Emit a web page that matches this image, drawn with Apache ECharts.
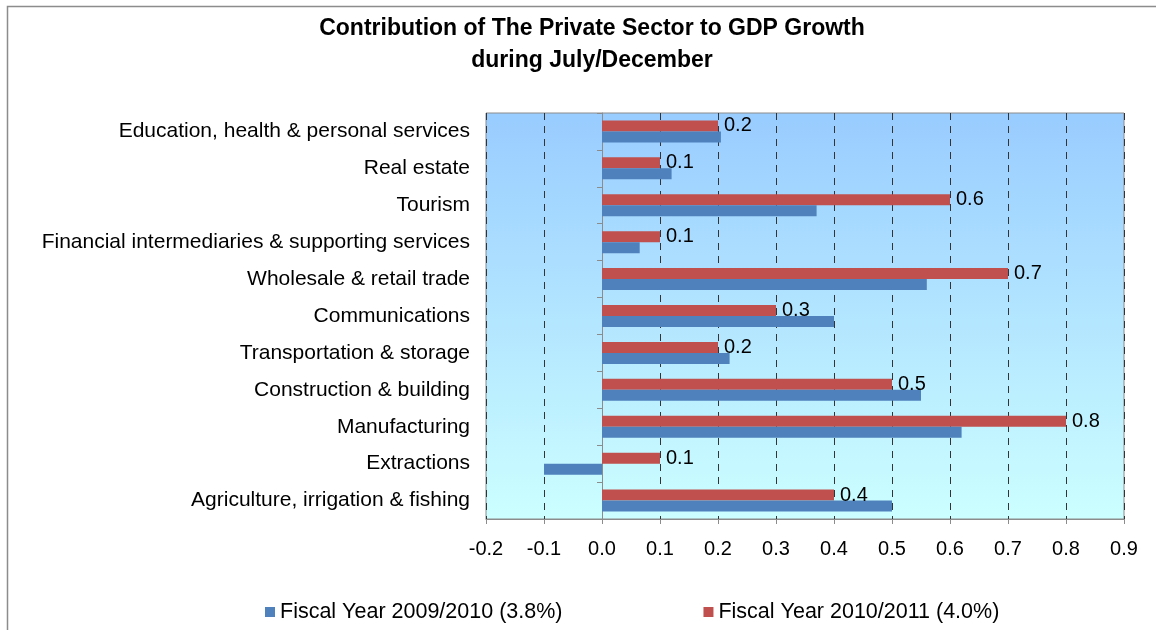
<!DOCTYPE html>
<html>
<head>
<meta charset="utf-8">
<script src="https://cdn.jsdelivr.net/npm/echarts@6/dist/echarts.min.js"></script>
<style>
  html, body { margin: 0; padding: 0; background: #ffffff; }
  #chart { width: 1156px; height: 630px; }
</style>
</head>
<body>
<div id="chart"></div>
<script>
// Sectors, bottom to top as they appear on the category axis
const sectors = [
  'Agriculture, irrigation & fishing',
  'Extractions',
  'Manufacturing',
  'Construction & building',
  'Transportation & storage',
  'Communications',
  'Wholesale & retail trade',
  'Financial intermediaries & supporting services',
  'Tourism',
  'Real estate',
  'Education, health & personal services'
];

// Contribution to GDP growth (percentage points)
const fy2009 = [0.50, -0.10, 0.62, 0.55, 0.22, 0.40, 0.56, 0.065, 0.37, 0.12, 0.205];
const fy2010 = [0.4, 0.1, 0.8, 0.5, 0.2, 0.3, 0.7, 0.1, 0.6, 0.1, 0.2];

const seriesNames = ['Fiscal Year 2009/2010 (3.8%)', 'Fiscal Year 2010/2011 (4.0%)'];
const titleLines = ['Contribution of The Private Sector to GDP Growth', 'during July/December'];

const FONT = 'Liberation Sans, Arial, sans-serif';
const BLUE = '#4F81BD';
const RED = '#C0504D';

const chart = echarts.init(document.getElementById('chart'), null, { renderer: 'canvas' });

chart.setOption({
  backgroundColor: '#ffffff',
  animation: false,
  textStyle: { fontFamily: FONT },
  graphic: [{
    type: 'rect',
    shape: { x: 7.5, y: 6.5, width: 1160, height: 640 },
    style: { fill: null, stroke: '#8c8c8c', lineWidth: 1.5 },
    silent: true
  }],
  title: {
    text: titleLines.join('\n'),
    left: 587,
    textAlign: 'center',
    top: 8,
    textStyle: {
      fontFamily: FONT,
      fontSize: 23,
      fontWeight: 'bold',
      color: '#000',
      lineHeight: 32
    }
  },
  legend: {
    data: seriesNames,
    left: 260,
    top: 596,
    itemWidth: 10,
    itemHeight: 10,
    itemGap: 141,
    icon: 'rect',
    textStyle: { fontFamily: FONT, fontSize: 21.5, color: '#000' }
  },
  grid: {
    left: 486,
    right: 32,
    top: 113,
    bottom: 111,
    show: true,
    borderColor: '#8c8c8c',
    borderWidth: 1,
    backgroundColor: {
      type: 'linear', x: 0, y: 0, x2: 0, y2: 1,
      colorStops: [
        { offset: 0, color: '#99CCFF' },
        { offset: 1, color: '#CCFFFF' }
      ]
    }
  },
  xAxis: {
    type: 'value',
    min: -0.2,
    max: 0.9,
    interval: 0.1,
    axisLine: { show: true, onZero: false, lineStyle: { color: '#8c8c8c' } },
    axisTick: { show: true, length: 5, lineStyle: { color: '#8c8c8c' } },
    axisLabel: {
      fontFamily: FONT, fontSize: 20, color: '#000', margin: 20,
      formatter: v => v.toFixed(1)
    },
    splitLine: {
      show: true,
      lineStyle: { color: '#333333', type: [7, 6], width: 1 }
    }
  },
  yAxis: [{
    type: 'category',
    data: sectors,
    position: 'left',
    axisLine: { show: false, onZero: false },
    axisTick: { show: false },
    axisLabel: { fontFamily: FONT, fontSize: 21, color: '#000', margin: 16, padding: [3, 0, 0, 0] },
    splitLine: { show: false }
  }, {
    type: 'category',
    data: sectors,
    position: 'left',
    axisLine: { show: true, onZero: true, lineStyle: { color: '#8c8c8c' } },
    axisTick: { show: true, length: 5, lineStyle: { color: '#8c8c8c' } },
    axisLabel: { show: false },
    splitLine: { show: false }
  }],
  series: [{
    name: seriesNames[1],
    type: 'bar',
    data: fy2010,
    yAxisIndex: 0,
    itemStyle: { color: RED },
    barWidth: 11,
    barGap: '0%',
    label: {
      show: true,
      position: 'right',
      distance: 6,
      fontFamily: FONT,
      fontSize: 20,
      color: '#000',
      padding: [3, 0, 0, 0],
      formatter: p => p.value.toFixed(1)
    }
  }, {
    name: seriesNames[0],
    type: 'bar',
    data: fy2009,
    yAxisIndex: 0,
    itemStyle: { color: BLUE },
    barWidth: 11,
    barGap: '0%'
  }]
});
</script>
</body>
</html>
